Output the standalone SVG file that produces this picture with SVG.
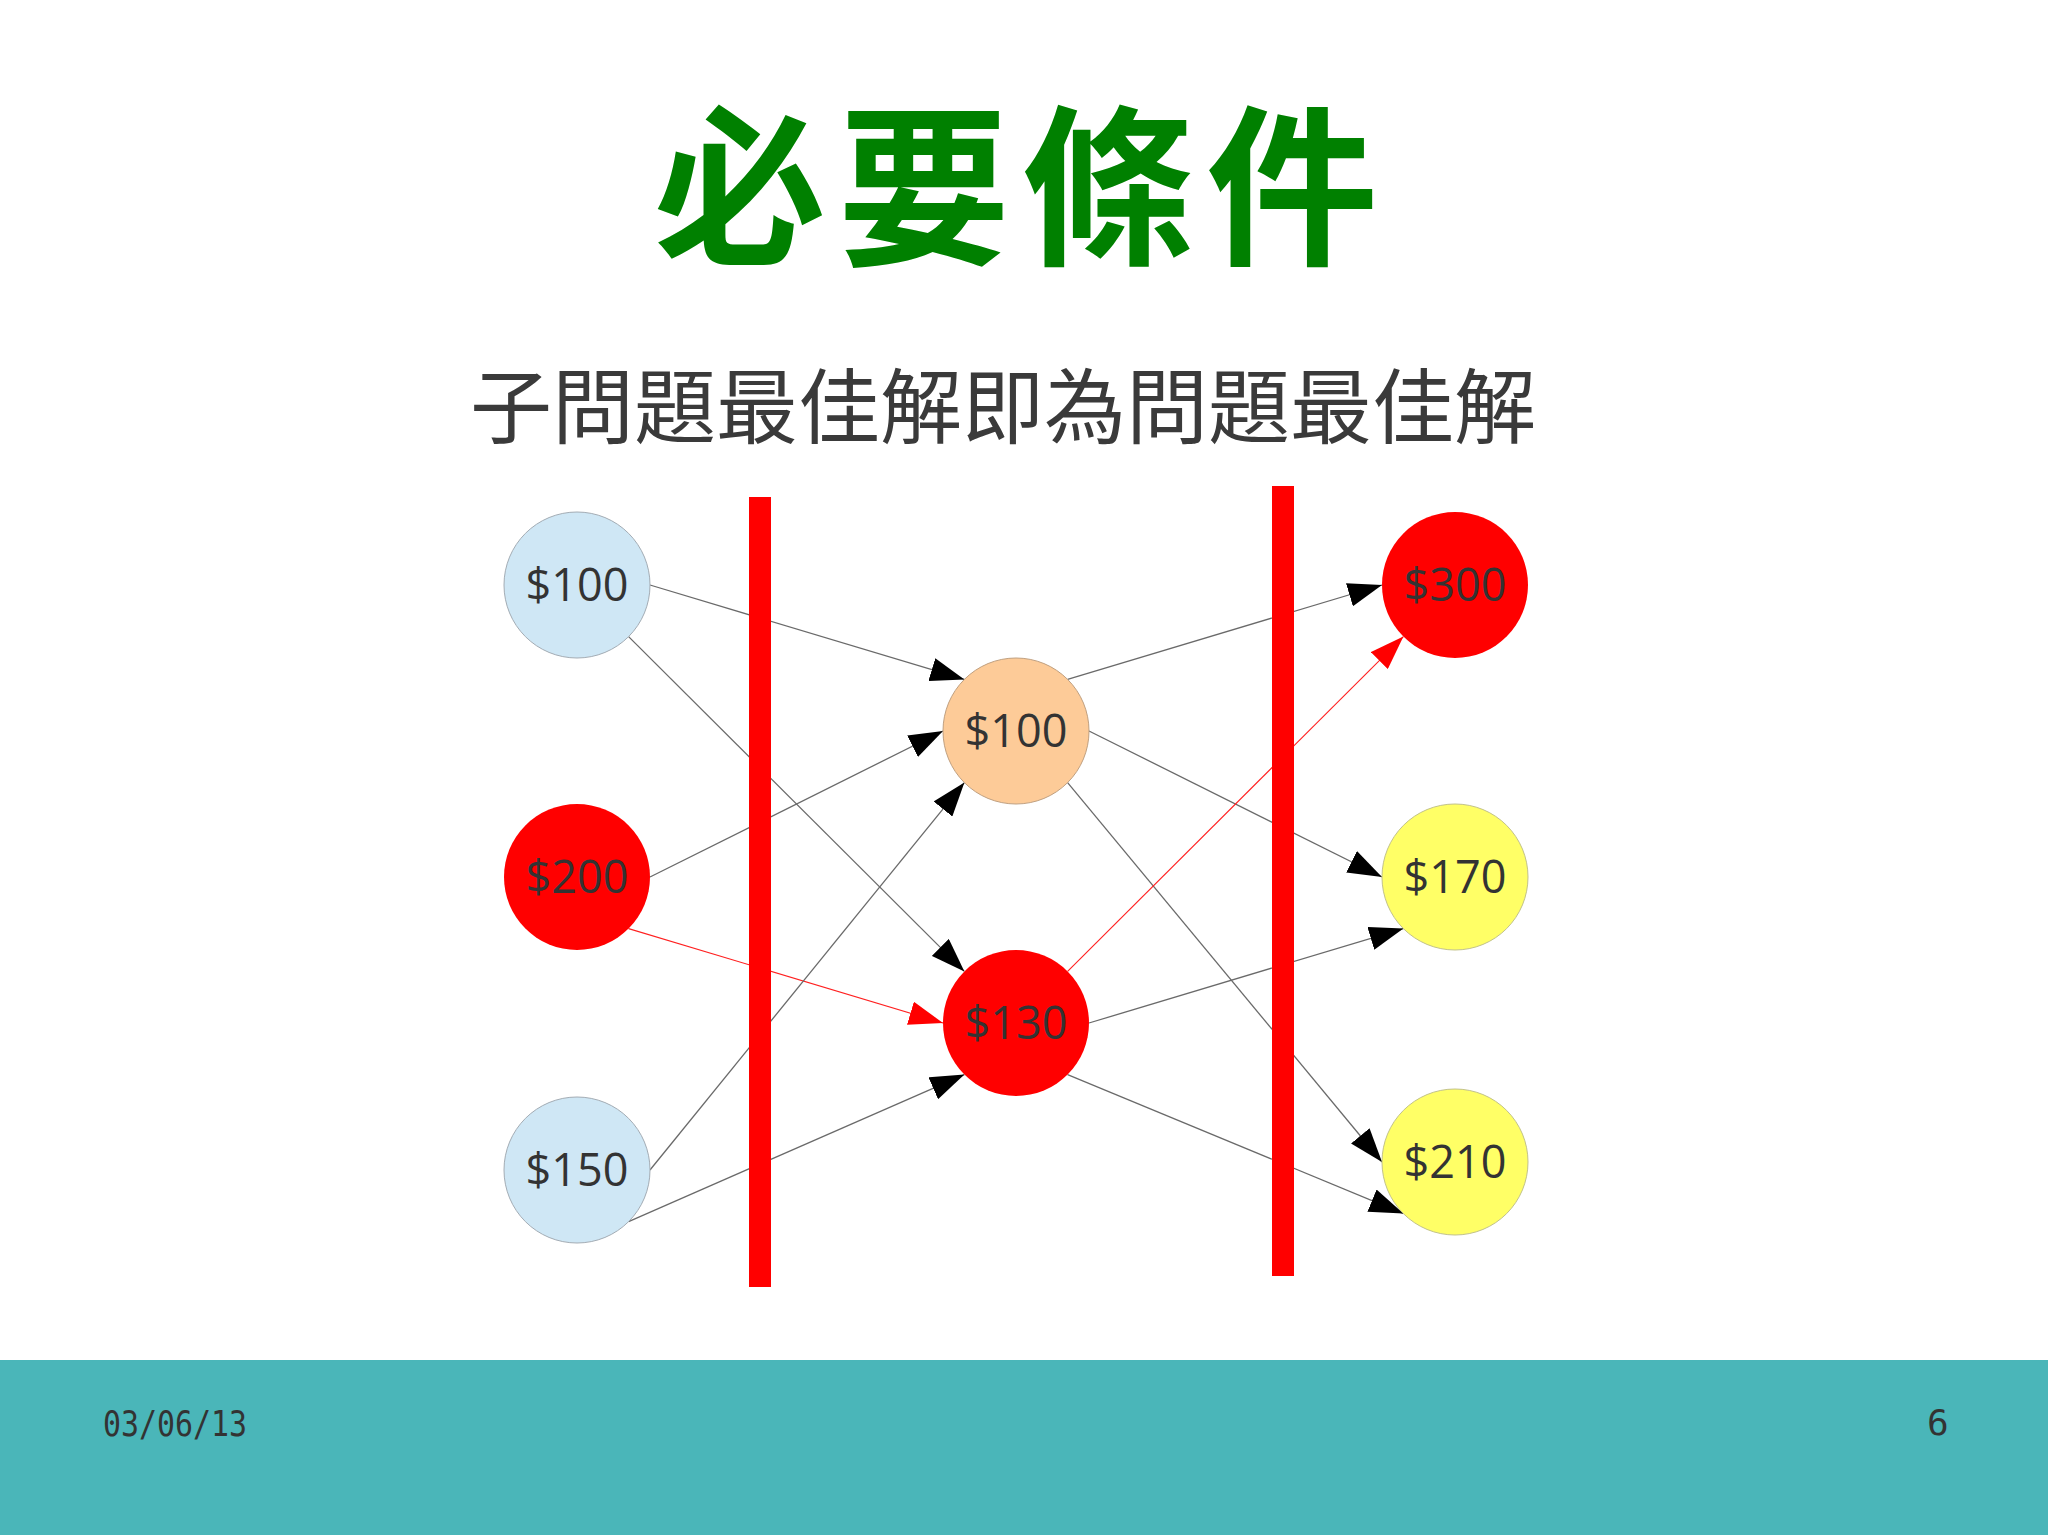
<svg xmlns="http://www.w3.org/2000/svg" width="2048" height="1535" viewBox="0 0 2048 1535">
<style>
.title{font-family:"Noto Sans CJK TC","Noto Sans CJK SC",sans-serif;font-weight:700;font-size:172px;fill:#008000;letter-spacing:12px}
.sub{font-family:"Noto Sans CJK TC","Noto Sans CJK SC",sans-serif;font-weight:400;font-size:82px;fill:#3a3a3a}
.lbl{font-family:"Open Sans","Noto Sans",sans-serif;font-size:45px;fill:#333333;text-anchor:middle}
.foot{font-family:"DejaVu Sans Mono","Liberation Mono",monospace;font-size:36px;fill:#333333}
.e{fill:none;stroke:#6a6a6a;stroke-width:1.3;marker-end:url(#arr)}
.er{fill:none;stroke:#ff2020;stroke-width:1.1;marker-end:url(#arrR)}
.blue{fill:#cfe7f5;stroke:#a3acb4;stroke-width:1}
.orange{fill:#fdcb98;stroke:#c0a080;stroke-width:1}
.red{fill:#ff0000;stroke:none}
.yellow{fill:#ffff66;stroke:#c2c28a;stroke-width:1}
.bar{fill:#ff0000}
</style>
<defs>
<marker id="arr" viewBox="0 0 34 24" markerUnits="userSpaceOnUse" markerWidth="34" markerHeight="24" refX="34" refY="12" orient="auto"><path d="M0,0 L34,12 L0,24 z" fill="#000"/></marker>
<marker id="arrR" viewBox="0 0 34 24" markerUnits="userSpaceOnUse" markerWidth="34" markerHeight="24" refX="34" refY="12" orient="auto"><path d="M0,0 L34,12 L0,24 z" fill="#ff0000"/></marker>
</defs>
<rect x="0" y="0" width="2048" height="1535" fill="#ffffff"/>
<text class="title" x="1022" y="251" text-anchor="middle">必要條件</text>
<text class="sub" x="1003" y="437" text-anchor="middle">子問題最佳解即為問題最佳解</text>
<g id="connectors">
<line class="e" x1="650" y1="585" x2="964.4" y2="679.4"/>
<line class="e" x1="628.6" y1="636.6" x2="964.4" y2="971.4"/>
<line class="e" x1="650" y1="877" x2="943" y2="731"/>
<line class="er" x1="628.6" y1="928.6" x2="943" y2="1023"/>
<line class="e" x1="650" y1="1170" x2="964.4" y2="782.6"/>
<line class="e" x1="628.6" y1="1221.6" x2="964.4" y2="1074.6"/>
<line class="e" x1="1067.6" y1="679.4" x2="1382" y2="585"/>
<line class="e" x1="1089" y1="731" x2="1382" y2="877"/>
<line class="e" x1="1067.6" y1="782.6" x2="1382" y2="1162"/>
<line class="er" x1="1067.6" y1="971.4" x2="1403.4" y2="636.6"/>
<line class="e" x1="1089" y1="1023" x2="1403.4" y2="928.6"/>
<line class="e" x1="1067.6" y1="1074.6" x2="1403.4" y2="1213.6"/>
</g>
<g id="node-l1"><circle class="blue" cx="577" cy="585" r="73"/><text class="lbl" x="577" y="601">$100</text></g>
<g id="node-l2"><circle class="red" cx="577" cy="877" r="73"/><text class="lbl" x="577" y="893">$200</text></g>
<g id="node-l3"><circle class="blue" cx="577" cy="1170" r="73"/><text class="lbl" x="577" y="1186">$150</text></g>
<g id="node-m1"><circle class="orange" cx="1016" cy="731" r="73"/><text class="lbl" x="1016" y="747">$100</text></g>
<g id="node-m2"><circle class="red" cx="1016" cy="1023" r="73"/><text class="lbl" x="1016" y="1039">$130</text></g>
<g id="node-r1"><circle class="red" cx="1455" cy="585" r="73"/><text class="lbl" x="1455" y="601">$300</text></g>
<g id="node-r2"><circle class="yellow" cx="1455" cy="877" r="73"/><text class="lbl" x="1455" y="893">$170</text></g>
<g id="node-r3"><circle class="yellow" cx="1455" cy="1162" r="73"/><text class="lbl" x="1455" y="1178">$210</text></g>
<g id="dividers">
<rect class="bar" x="749" y="497" width="22" height="790"/>
<rect class="bar" x="1272" y="486" width="22" height="790"/>
</g>
<rect x="0" y="1360" width="2048" height="175" fill="#4ab6b9"/>
<text class="foot" x="103" y="1436" textLength="144" lengthAdjust="spacingAndGlyphs">03/06/13</text>
<text class="foot" x="1927" y="1435">6</text>
</svg>
